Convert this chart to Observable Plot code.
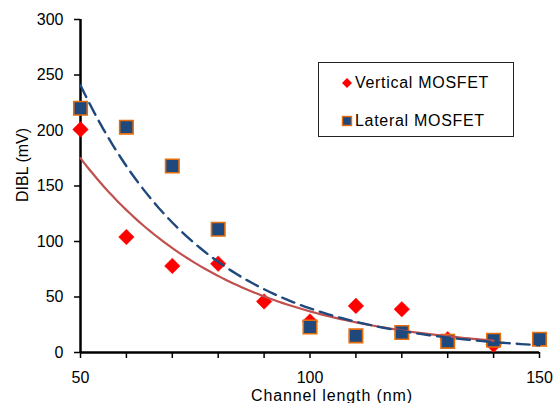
<!DOCTYPE html>
<html>
<head>
<meta charset="utf-8">
<script src="https://cdn.jsdelivr.net/npm/d3@7"></script>
<script src="https://cdn.jsdelivr.net/npm/@observablehq/plot@0.6"></script>
<style>
  html, body { margin: 0; padding: 0; background: #fff; }
  #wrap { position: relative; width: 556px; height: 403px; overflow: hidden; font-family: Arial, "Liberation Sans", sans-serif; }
  #legend { position: absolute; left: 318px; top: 62px; width: 196px; height: 75px; border: 1px solid #222; background: #fff; box-sizing: border-box; font-size: 16px; letter-spacing: 0.7px; color: #000; }
  .item { position: absolute; left: 22px; display: flex; align-items: center; }
  .item svg { margin-right: 2px; }
</style>
</head>
<body>
<div id="wrap"></div>
<script>
// Data
const verticalX = [50, 60, 70, 80, 90, 100, 110, 120, 130, 140];
const verticalY = [201, 104, 78, 80, 46, 28, 42, 39, 12, 7];
const lateralX  = [50, 60, 70, 80, 100, 110, 120, 130, 140, 150];
const lateralY  = [220, 203, 168, 111, 23, 15, 18, 10, 11, 12];
const xTicks = [50, 60, 70, 80, 90, 100, 110, 120, 130, 140, 150];
const xTickLabels = [50, 100, 150];
const yTicks = [0, 50, 100, 150, 200, 250, 300];
const seriesNames = ["Vertical MOSFET", "Lateral MOSFET"];

const vertical = verticalX.map((x, i) => ({x, y: verticalY[i]}));
const lateral = lateralX.map((x, i) => ({x, y: lateralY[i]}));

// Exponential trendline (least squares on ln y), as the spreadsheet does
function expFit(data) {
  const mx = d3.mean(data, d => d.x);
  const my = d3.mean(data, d => Math.log(d.y));
  const sxy = d3.sum(data, d => (d.x - mx) * (Math.log(d.y) - my));
  const sxx = d3.sum(data, d => (d.x - mx) ** 2);
  const b = sxy / sxx, a = my - b * mx;
  const [x0, x1] = d3.extent(data, d => d.x);
  return d3.range(0, 101).map(i => {
    const x = x0 + (x1 - x0) * i / 100;
    return {x, y: Math.exp(a + b * x)};
  });
}
const vFit = expFit(vertical);
const lFit = expFit(lateral);

const navy = "#1F497D", orange = "#E46C0A", red = "#FF0000", fitRed = "#C0504D";

const chart = Plot.plot({
  width: 556,
  height: 403,
  marginLeft: 80,
  marginRight: 17,
  marginTop: 19,
  marginBottom: 51,
  style: {fontFamily: "Arial, 'Liberation Sans', sans-serif", fontSize: "16px", background: "transparent", color: "#000"},
  x: {domain: [50, 150]},
  y: {domain: [0, 300]},
  marks: [
    Plot.axisY({ticks: yTicks, tickSize: 6, tickPadding: 11, label: null, stroke: "#000", strokeWidth: 1.5, fontSize: 16}),
    Plot.axisX({ticks: xTicks, tickSize: 6, tickPadding: 13, label: null, stroke: "#000", strokeWidth: 1.5, fontSize: 16,
      tickFormat: d => xTickLabels.includes(d) ? String(d) : ""}),
    Plot.ruleY([0], {stroke: "#000", strokeWidth: 2.5}),
    Plot.ruleX([50], {stroke: "#000", strokeWidth: 2.5}),
    Plot.dot(vertical, {x: "x", y: "y", symbol: "diamond2", r: 7, fill: red, stroke: red, strokeWidth: 0.5}),
    Plot.dot(lateral, {x: "x", y: "y", symbol: "square", r: 7.6, fill: navy, stroke: orange, strokeWidth: 1.6}),
    Plot.line(vFit, {x: "x", y: "y", stroke: fitRed, strokeWidth: 2.2}),
    Plot.line(lFit, {x: "x", y: "y", stroke: navy, strokeWidth: 2.4, strokeDasharray: "13,7"}),
    Plot.text(["DIBL (mV)"], {frameAnchor: "left", rotate: -90, dx: -58, dy: 16, fontSize: 16, fill: "#000"}),
    Plot.text(["Channel length (nm)"], {frameAnchor: "bottom", dx: 22, dy: 43, fontSize: 16, fill: "#000", lineAnchor: "middle", style: "letter-spacing:0.9px"})
  ]
});

const wrap = document.getElementById("wrap");
wrap.appendChild(chart);
d3.select(chart).selectAll("text").filter(function() { return this.textContent === "Channel length (nm)"; }).style("letter-spacing", "0.9px");

const legend = document.createElement("div");
legend.id = "legend";
legend.innerHTML = `
  <div class="item" style="top:11px"><svg width="12" height="12" viewBox="-6 -6 12 12"><path d="M0,-5L5,0L0,5L-5,0Z" fill="${red}"/></svg><span>${seriesNames[0]}</span></div>
  <div class="item" style="top:49px"><svg width="12" height="12" viewBox="-6 -6 12 12"><rect x="-4.5" y="-4.5" width="9" height="9" fill="${navy}" stroke="${orange}" stroke-width="1.4"/></svg><span>${seriesNames[1]}</span></div>`;
wrap.appendChild(legend);
</script>
</body>
</html>
